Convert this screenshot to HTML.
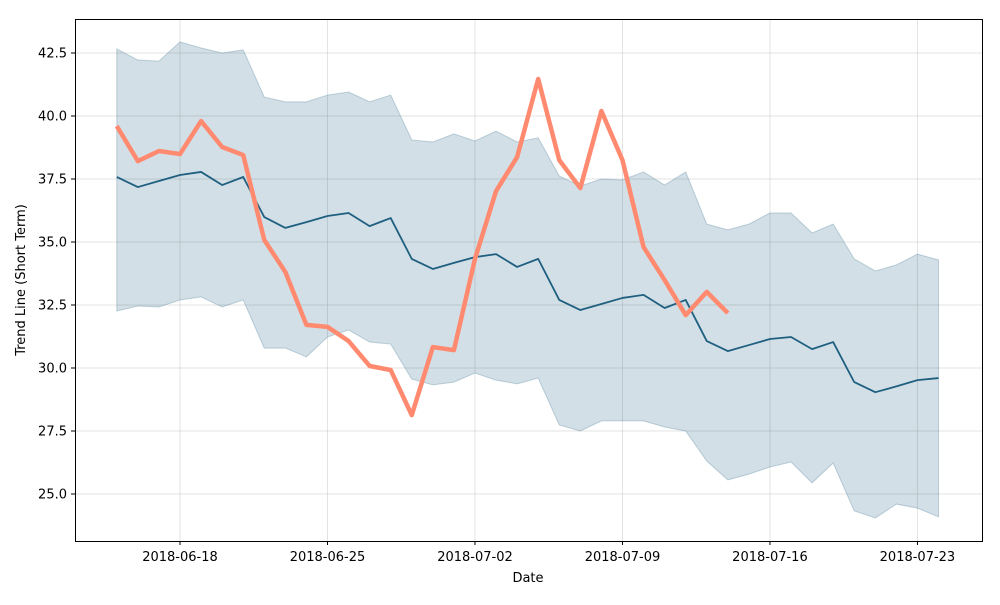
<!DOCTYPE html>
<html><head><meta charset="utf-8"><style>
body{margin:0;background:#fff}
svg text{font-family:"DejaVu Sans","Liberation Sans",sans-serif;font-size:13px;fill:#000}
</style></head><body>
<svg id="chart" width="1000" height="600" xmlns="http://www.w3.org/2000/svg">
<g id="grid"></g>
<g id="marks"></g>
<rect x="75.5" y="19.5" width="907" height="522" fill="none" stroke="#000" stroke-width="1"/>
<g id="axes"></g>
<text x="528" y="582" text-anchor="middle">Date</text>
<text transform="translate(25,280) rotate(-90)" text-anchor="middle">Trend Line (Short Term)</text>
</svg>
<script>
const startDate = "2018-06-15";
const trend = [37.58,37.18,37.42,37.66,37.78,37.26,37.58,35.99,35.56,35.79,36.03,36.15,35.63,35.95,34.33,33.93,34.17,34.40,34.52,34.01,34.33,32.70,32.30,32.54,32.78,32.90,32.38,32.70,31.07,30.67,30.91,31.15,31.23,30.75,31.03,29.44,29.04,29.27,29.52,29.60];
const upper = [42.66,42.22,42.18,42.94,42.70,42.50,42.62,40.75,40.56,40.56,40.83,40.95,40.56,40.83,39.05,38.97,39.29,39.01,39.40,38.97,39.13,37.62,37.22,37.50,37.46,37.78,37.26,37.78,35.71,35.48,35.71,36.15,36.15,35.36,35.71,34.33,33.85,34.09,34.52,34.29];
const lower = [32.26,32.46,32.42,32.70,32.82,32.42,32.70,30.79,30.79,30.44,31.23,31.51,31.03,30.95,29.56,29.33,29.44,29.80,29.52,29.37,29.60,27.74,27.50,27.90,27.90,27.90,27.66,27.50,26.31,25.56,25.79,26.07,26.27,25.44,26.23,24.33,24.05,24.60,24.44,24.09];
const actual = [39.60,38.21,38.61,38.49,39.80,38.77,38.45,35.08,33.81,31.71,31.63,31.07,30.08,29.92,28.13,30.83,30.71,34.33,37.02,38.37,41.47,38.25,37.14,40.20,38.25,34.80,33.49,32.10,33.02,32.18];
const yTicks = [25.0,27.5,30.0,32.5,35.0,37.5,40.0,42.5];
const xTickLabels = ["2018-06-18","2018-06-25","2018-07-02","2018-07-09","2018-07-16","2018-07-23"];

const NS="http://www.w3.org/2000/svg";
const day0=Date.UTC(2018,5,18);
function dayIdx(s){const p=s.split("-");return (Date.UTC(+p[0],+p[1]-1,+p[2])-day0)/86400000;}
const sIdx=dayIdx(startDate);
function X(d){return 180+d*21.07;}
function Y(v){return 53+(42.5-v)*25.2;}
function mk(tag,attrs,parent){const e=document.createElementNS(NS,tag);for(const k in attrs)e.setAttribute(k,attrs[k]);parent.appendChild(e);return e;}
const grid=document.getElementById("grid"),marks=document.getElementById("marks"),axes=document.getElementById("axes");
yTicks.forEach(t=>{const y=Y(t);
 const g=mk("line",{x1:75,x2:982,y1:y,y2:y,stroke:"#b0b0b0","stroke-opacity":0.35,"stroke-width":1},grid);
 
 
 const tk=mk("line",{x1:71,x2:75,y1:y,y2:y,stroke:"#000"},axes);
 
 
 const tx=mk("text",{x:67,y:y+4.5,"text-anchor":"end"},axes);tx.textContent=t.toFixed(1);
 
 
});
xTickLabels.forEach(s=>{const x=X(dayIdx(s));
 const g=mk("line",{x1:x,x2:x,y1:19,y2:541,stroke:"#b0b0b0","stroke-opacity":0.35,"stroke-width":1},grid);
 
 
 const tk=mk("line",{x1:x,x2:x,y1:541,y2:545,stroke:"#000"},axes);
 
 
 const tx=mk("text",{x:x,y:561,"text-anchor":"middle"},axes);tx.textContent=s;
 
 
});
let pts=upper.map((v,i)=>X(sIdx+i)+","+Y(v));
for(let i=lower.length-1;i>=0;i--)pts.push(X(sIdx+i)+","+Y(lower[i]));
const band=mk("polygon",{points:pts.join(" "),fill:"#1f5f80","fill-opacity":0.2,stroke:"#1f5f80","stroke-opacity":0.25,"stroke-width":1},marks);


const tl=mk("polyline",{points:trend.map((v,i)=>X(sIdx+i)+","+Y(v)).join(" "),fill:"none",stroke:"#1f5f80","stroke-width":1.8,"stroke-linejoin":"round"},marks);


const al=mk("polyline",{points:actual.map((v,i)=>X(sIdx+i)+","+Y(v)).join(" "),fill:"none",stroke:"#ff8a70","stroke-width":4.5,"stroke-linejoin":"round"},marks);


</script>
</body></html>
